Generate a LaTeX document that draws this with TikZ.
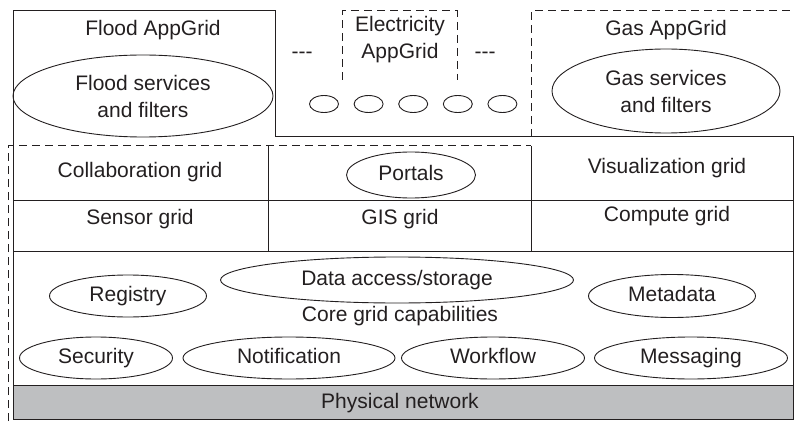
\documentclass[tikz,border=0pt]{standalone}
\usepackage{fontspec}
\setmainfont{Liberation Sans}
\usetikzlibrary{shapes.geometric}
\definecolor{inkgray}{RGB}{35,31,32}
\definecolor{netgray}{RGB}{190,191,193}

\begin{document}
\begin{tikzpicture}[x=1pt, y=-1pt, font=\fontsize{21}{27}\selectfont]
        \tikzset{
            solidline/.style={draw=inkgray, line width=1pt},
            dashline/.style={draw=inkgray, line width=1pt, dash pattern=on 8pt off 5pt},
            blob/.style={ellipse, draw=inkgray, line width=0.9pt, inner sep=0pt},
            labeltext/.style={align=center, text=inkgray, inner sep=0pt},
            oneline/.style={text height=15pt, text depth=5pt}
        }
        \useasboundingbox (0,0) rectangle (794,422);

        % physical network band
        \fill[netgray] (13,385) rectangle (793,419);

        % outer frame and layer lines
        \draw[solidline] (13,419) -- (13,11) -- (275,11) -- (275,137) -- (793,137) -- (793,419) -- cycle;
        \draw[solidline] (13,200) -- (793,200);
        \draw[solidline] (13,251) -- (793,251);
        \draw[solidline] (13,385) -- (793,385);
        \draw[solidline] (268,146) -- (268,251);
        \draw[solidline] (531,146) -- (531,251);

        % dashed application grids
        \draw[dashline] (531,137) -- (531,11) -- (793,11);
        \draw[dashline] (342,80) -- (342,11) -- (457,11) -- (457,80);
        \draw[dashline] (8,421) -- (8,146) -- (531,146);

        % application grids
        \node[labeltext, oneline] (floodapp) at (153,31) {Flood AppGrid};
        \node[blob, minimum width=260pt, minimum height=82pt, labeltext] (floodsvc) at (143,96) {Flood services\\and filters};
        \node[labeltext] (elecapp) at (400,40) {Electricity\\AppGrid};
        \node[labeltext, anchor=base] (dotsl) at (302,59) {-{}-{}-};
        \node[labeltext, anchor=base] (dotsr) at (485,59) {-{}-{}-};
        \foreach \i in {0,...,4}
            \node[blob, minimum width=29pt, minimum height=17pt] (svc\i) at (324+44.6*\i,104) {};
        \node[labeltext, oneline] (gasapp) at (666,31) {Gas AppGrid};
        \node[blob, minimum width=228pt, minimum height=84pt, labeltext] (gassvc) at (666,91) {Gas services\\and filters};

        % grid layers
        \node[labeltext, oneline] (collab) at (140,172) {Collaboration grid};
        \node[blob, minimum width=129pt, minimum height=46pt, labeltext, oneline] (portals) at (411,175) {Portals};
        \node[labeltext, oneline] (visual) at (667,168) {Visualization grid};
        \node[labeltext, oneline] (sensor) at (140,219) {Sensor grid};
        \node[labeltext, oneline] (gis) at (400,219) {GIS grid};
        \node[labeltext, oneline] (compute) at (667,216) {Compute grid};

        % core capabilities
        \node[blob, minimum width=157pt, minimum height=42pt, labeltext, oneline] (registry) at (128,296) {Registry};
        \node[blob, minimum width=353pt, minimum height=46pt, labeltext, oneline] (data) at (397,280) {Data access/storage};
        \node[blob, minimum width=167pt, minimum height=43pt, labeltext, oneline] (metadata) at (672,296) {Metadata};
        \node[labeltext, oneline] (core) at (400,316) {Core grid capabilities};
        \node[blob, minimum width=153pt, minimum height=42pt, labeltext, oneline] (security) at (96,358) {Security};
        \node[blob, minimum width=212pt, minimum height=42pt, labeltext, oneline] (notify) at (289,358) {Notification};
        \node[blob, minimum width=183pt, minimum height=42pt, labeltext, oneline] (workflow) at (493,358) {Workflow};
        \node[blob, minimum width=193pt, minimum height=42pt, labeltext, oneline] (messaging) at (691,358) {Messaging};
        \node[labeltext, oneline] (network) at (400,403) {Physical network};
    \end{tikzpicture}
\end{document}
